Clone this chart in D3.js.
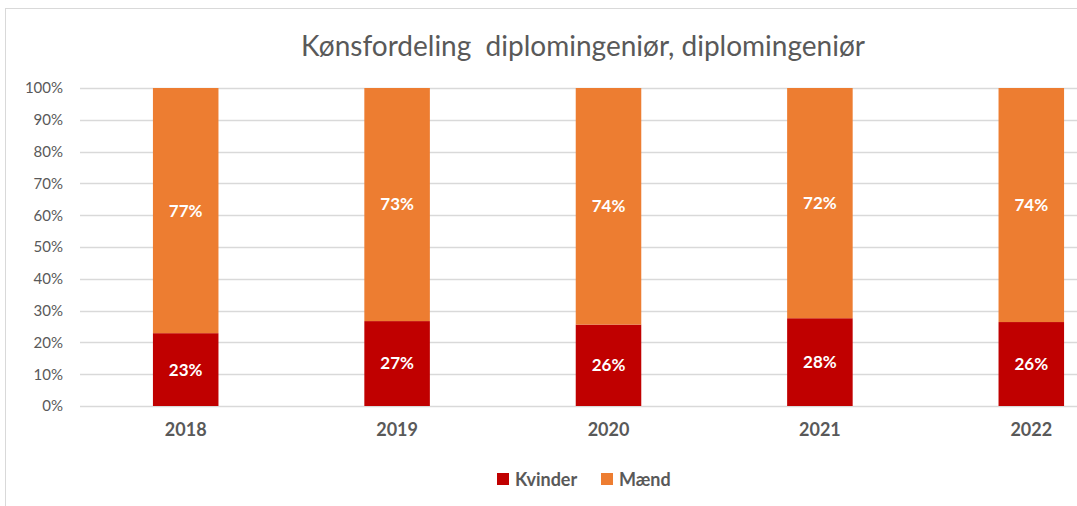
<!DOCTYPE html>
<html lang="da">
<head>
<meta charset="UTF-8">
<title>Kønsfordeling</title>
<script src="https://cdn.jsdelivr.net/npm/d3@7"></script>
<style>
  * { margin: 0; padding: 0; box-sizing: border-box; }
  body { background: #fff; font-family: Lato, "Open Sans", sans-serif; }
  svg { display: block; }
</style>
</head>
<body>
<svg width="1077" height="506"></svg>
<script>
var years = ["2018", "2019", "2020", "2021", "2022"];
var kvinder = [0.229, 0.267, 0.256, 0.276, 0.264];
var maend = [0.771, 0.733, 0.744, 0.724, 0.736];
var yTicks = [0, 0.1, 0.2, 0.3, 0.4, 0.5, 0.6, 0.7, 0.8, 0.9, 1];
var seriesNames = ["Kvinder", "Mænd"];
var colors = ["#c00000", "#ed7d31"];

var svg = d3.select("svg");
var grey = "#595959";

// chart frame
svg.append("rect")
    .attr("x", 5.5).attr("y", 8.5)
    .attr("width", 1100).attr("height", 520)
    .attr("fill", "none").attr("stroke", "#d9d9d9");

svg.append("text")
    .attr("x", 583).attr("y", 56)
    .attr("text-anchor", "middle")
    .attr("fill", grey)
    .style("font-size", "28px")
    .style("white-space", "pre")
    .text("Kønsfordeling  diplomingeniør, diplomingeniør");

var x = d3.scaleBand().domain(years).range([80, 1137]).paddingInner(0.69).paddingOuter(0.345);
var y = d3.scaleLinear().domain([0, 1]).range([406, 88]);

// gridlines
svg.append("g").selectAll("line")
    .data(yTicks)
    .enter().append("line")
    .attr("x1", 80).attr("x2", 1077)
    .attr("y1", function (d) { return Math.round(y(d)) + 0.5; })
    .attr("y2", function (d) { return Math.round(y(d)) + 0.5; })
    .attr("stroke", "#d9d9d9").attr("stroke-width", 1.5);

var yAxis = d3.axisLeft(y).tickValues(yTicks).tickFormat(d3.format(".0%")).tickSize(0).tickPadding(0);
var ga = svg.append("g").attr("transform", "translate(63,0)").call(yAxis);
ga.select(".domain").remove();
ga.selectAll("text").attr("fill", grey).style("font-size", "15px").style("font-family", "Lato, 'Open Sans', sans-serif");

var xAxis = d3.axisBottom(x).tickSize(0).tickPadding(0);
var gx = svg.append("g").attr("transform", "translate(0,423)").call(xAxis);
gx.select(".domain").remove();
gx.selectAll("text").attr("fill", grey).style("font-size", "18px").style("font-weight", "bold")
    .style("font-family", "Lato, 'Open Sans', sans-serif");

// stacked bars
var stacked = years.map(function (yr, i) {
    return [
        { year: yr, s: 0, y0: 0, y1: kvinder[i], v: kvinder[i] },
        { year: yr, s: 1, y0: kvinder[i], y1: kvinder[i] + maend[i], v: maend[i] }
    ];
});
var segs = [].concat.apply([], stacked);

svg.append("g").selectAll("rect")
    .data(segs)
    .enter().append("rect")
    .attr("x", function (d) { return x(d.year); })
    .attr("width", x.bandwidth())
    .attr("y", function (d) { return y(Math.min(d.y1, 1)); })
    .attr("height", function (d) { return y(d.y0) - y(Math.min(d.y1, 1)); })
    .attr("fill", function (d) { return colors[d.s]; });

svg.append("g").selectAll("text")
    .data(segs)
    .enter().append("text")
    .attr("x", function (d) { return x(d.year) + x.bandwidth() / 2; })
    .attr("y", function (d) { return (y(d.y0) + y(Math.min(d.y1, 1))) / 2; })
    .attr("dy", "0.35em")
    .attr("text-anchor", "middle")
    .attr("fill", "#fff")
    .style("font-size", "17px").style("font-weight", "bold")
    .text(function (d) { return Math.round(d.v * 100) + "%"; });

// legend
var legendX = [497, 601];
var lg = svg.append("g").selectAll("g")
    .data(seriesNames)
    .enter().append("g")
    .attr("transform", function (d, i) { return "translate(" + legendX[i] + ",473)"; });
lg.append("rect").attr("width", 12).attr("height", 12).attr("fill", function (d, i) { return colors[i]; });
lg.append("text").attr("x", 18).attr("y", 13)
    .attr("fill", grey).style("font-size", "18px").style("font-weight", "bold")
    .text(function (d) { return d; });
</script>
</body>
</html>
